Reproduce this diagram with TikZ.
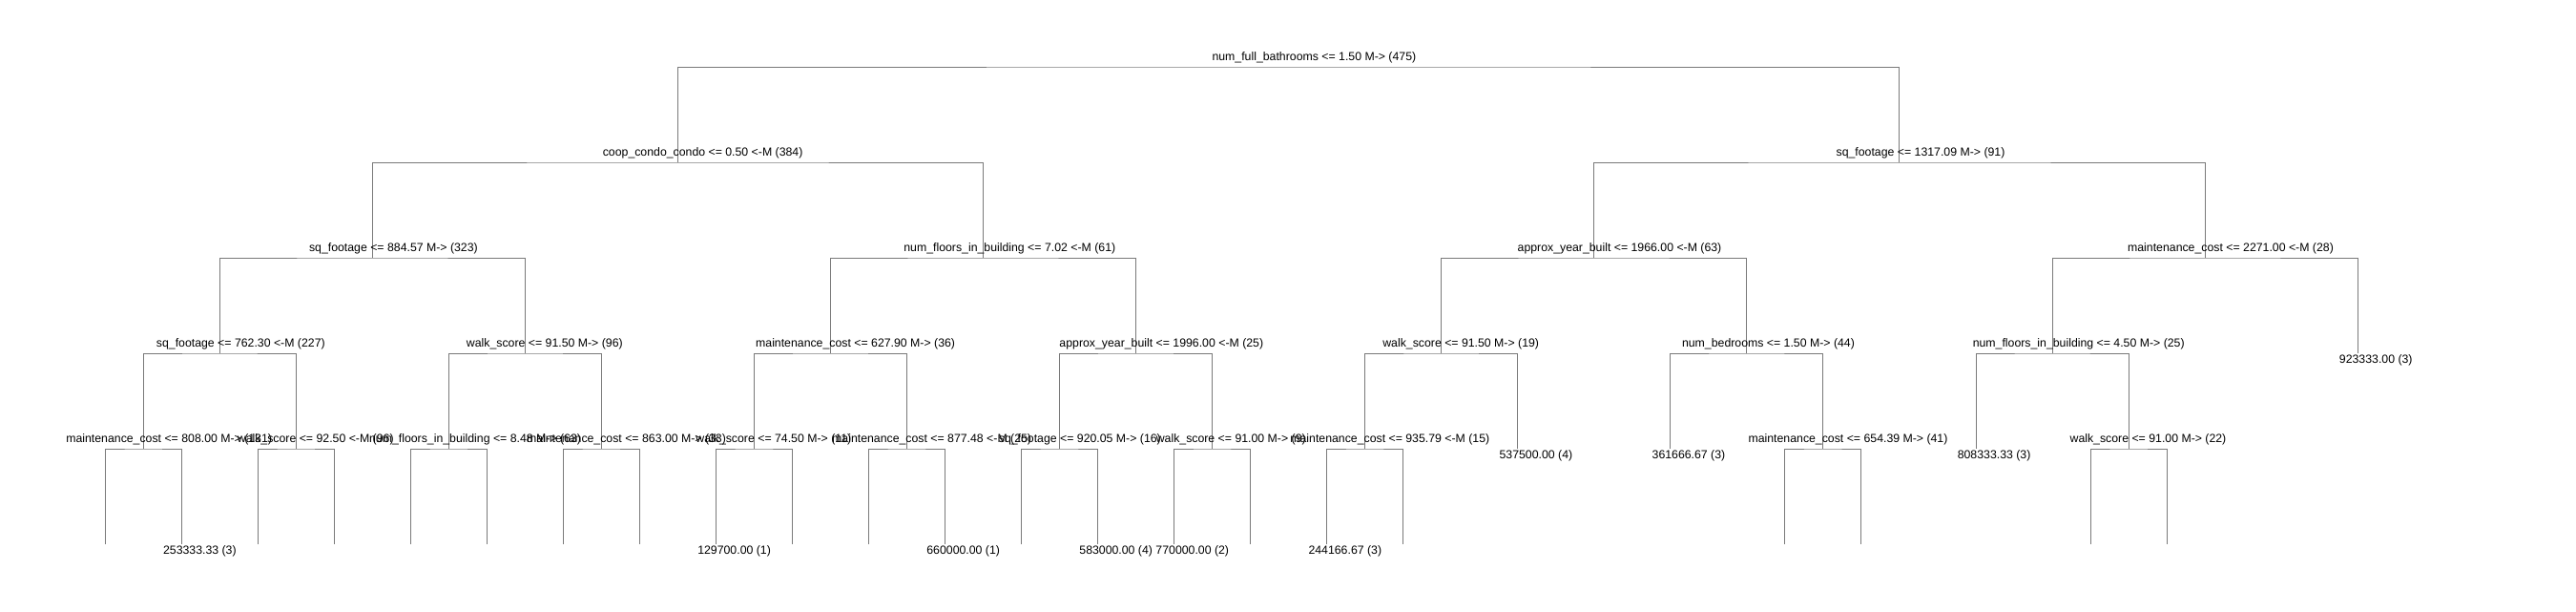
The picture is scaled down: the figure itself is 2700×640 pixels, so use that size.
\documentclass[tikz,border=0pt]{standalone}
\usepackage{fontspec}
\setmainfont{Liberation Sans}
\usetikzlibrary{calc}
\definecolor{treegray}{HTML}{7A7A7A}
\newcommand\lblfont{\fontsize{12.3}{14}\selectfont}
\tikzset{
  edge/.style={draw=treegray, line width=0.9pt},
  lbl/.style={inner sep=0pt, outer sep=0pt, font=\lblfont, text=black},
}
% internal node label: left edge at x - 0.375 width, baseline above the bar
\newcommand\splitlabel[4]{%
  \path (#2,#3) node[lbl, anchor=base west] (#1m) {\phantom{#4}};
  \path let \p1=($(#1m.east)-(#1m.west)$) in
    node[lbl, anchor=base west, xshift=-0.375*\x1, yshift=6.5pt] (#1) at (#2,#3) {#4};}
% leaf label: left edge at x - 0.25 width, below the end of the leaf line
\newcommand\leaflabel[4]{%
  \path (#2,#3) node[lbl, anchor=base west] (#1m) {\phantom{#4}};
  \path let \p1=($(#1m.east)-(#1m.west)$) in
    node[lbl, anchor=base west, xshift=-0.25*\x1, yshift=-10.5pt] (#1) at (#2,#3) {#4};}
\begin{document}
\begin{tikzpicture}[x=1pt, y=-1pt]
\fill[white] (0,0) rectangle (2700,640);
\useasboundingbox (0,0) rectangle (2700,640);
% tree nodes
\coordinate (n0) at (1350.67,70);
\coordinate (n1a) at (710.43,170);
\coordinate (n1b) at (1990.91,170);
\coordinate (n2a) at (390.31,270);
\coordinate (n2b) at (1030.55,270);
\coordinate (n2c) at (1670.79,270);
\coordinate (n2d) at (2311.03,270);
\coordinate (n3a) at (230.25,370);
\coordinate (n3b) at (550.37,370);
\coordinate (n3c) at (870.49,370);
\coordinate (n3d) at (1190.61,370);
\coordinate (n3e) at (1510.73,370);
\coordinate (n3f) at (1830.85,370);
\coordinate (n3g) at (2150.97,370);
\coordinate (l29) at (2471.09,370);
\coordinate (n4a) at (150.22,470);
\coordinate (n4b) at (310.28,470);
\coordinate (n4c) at (470.34,470);
\coordinate (n4d) at (630.40,470);
\coordinate (n4e) at (790.46,470);
\coordinate (n4f) at (950.52,470);
\coordinate (n4g) at (1110.58,470);
\coordinate (n4h) at (1270.64,470);
\coordinate (n4i) at (1430.70,470);
\coordinate (l18) at (1590.76,470);
\coordinate (l20) at (1750.82,470);
\coordinate (n4j) at (1910.88,470);
\coordinate (l24) at (2070.94,470);
\coordinate (n4k) at (2231.00,470);
\coordinate (l0) at (110.20,570);
\coordinate (l1) at (190.23,570);
\coordinate (l2) at (270.26,570);
\coordinate (l3) at (350.29,570);
\coordinate (l4) at (430.32,570);
\coordinate (l5) at (510.35,570);
\coordinate (l6) at (590.38,570);
\coordinate (l7) at (670.41,570);
\coordinate (l8) at (750.44,570);
\coordinate (l9) at (830.47,570);
\coordinate (l10) at (910.50,570);
\coordinate (l11) at (990.53,570);
\coordinate (l12) at (1070.56,570);
\coordinate (l13) at (1150.59,570);
\coordinate (l14) at (1230.62,570);
\coordinate (l15) at (1310.65,570);
\coordinate (l16) at (1390.68,570);
\coordinate (l17) at (1470.71,570);
\coordinate (l22) at (1870.86,570);
\coordinate (l23) at (1950.89,570);
\coordinate (l26) at (2190.98,570);
\coordinate (l27) at (2271.01,570);
% connectors
\draw[edge] (n1a) |- (n0) -| (n1b);
\draw[edge] (n2a) |- (n1a) -| (n2b);
\draw[edge] (n2c) |- (n1b) -| (n2d);
\draw[edge] (n3a) |- (n2a) -| (n3b);
\draw[edge] (n3c) |- (n2b) -| (n3d);
\draw[edge] (n3e) |- (n2c) -| (n3f);
\draw[edge] (n3g) |- (n2d) -| (l29);
\draw[edge] (n4a) |- (n3a) -| (n4b);
\draw[edge] (n4c) |- (n3b) -| (n4d);
\draw[edge] (n4e) |- (n3c) -| (n4f);
\draw[edge] (n4g) |- (n3d) -| (n4h);
\draw[edge] (n4i) |- (n3e) -| (l18);
\draw[edge] (l20) |- (n3f) -| (n4j);
\draw[edge] (l24) |- (n3g) -| (n4k);
\draw[edge] (l0) |- (n4a) -| (l1);
\draw[edge] (l2) |- (n4b) -| (l3);
\draw[edge] (l4) |- (n4c) -| (l5);
\draw[edge] (l6) |- (n4d) -| (l7);
\draw[edge] (l8) |- (n4e) -| (l9);
\draw[edge] (l10) |- (n4f) -| (l11);
\draw[edge] (l12) |- (n4g) -| (l13);
\draw[edge] (l14) |- (n4h) -| (l15);
\draw[edge] (l16) |- (n4i) -| (l17);
\draw[edge] (l22) |- (n4j) -| (l23);
\draw[edge] (l26) |- (n4k) -| (l27);
% split labels
\splitlabel{t0}{1350.67}{70}{num\_full\_bathrooms <= 1.50 M-> (475)}
\splitlabel{t1a}{710.43}{170}{coop\_condo\_condo <= 0.50 <-M (384)}
\splitlabel{t1b}{1990.91}{170}{sq\_footage <= 1317.09 M-> (91)}
\splitlabel{t2a}{390.31}{270}{sq\_footage <= 884.57 M-> (323)}
\splitlabel{t2b}{1030.55}{270}{num\_floors\_in\_building <= 7.02 <-M (61)}
\splitlabel{t2c}{1670.79}{270}{approx\_year\_built <= 1966.00 <-M (63)}
\splitlabel{t2d}{2311.03}{270}{maintenance\_cost <= 2271.00 <-M (28)}
\splitlabel{t3a}{230.25}{370}{sq\_footage <= 762.30 <-M (227)}
\splitlabel{t3b}{550.37}{370}{walk\_score <= 91.50 M-> (96)}
\splitlabel{t3c}{870.49}{370}{maintenance\_cost <= 627.90 M-> (36)}
\splitlabel{t3d}{1190.61}{370}{approx\_year\_built <= 1996.00 <-M (25)}
\splitlabel{t3e}{1510.73}{370}{walk\_score <= 91.50 M-> (19)}
\splitlabel{t3f}{1830.85}{370}{num\_bedrooms <= 1.50 M-> (44)}
\splitlabel{t3g}{2150.97}{370}{num\_floors\_in\_building <= 4.50 M-> (25)}
\splitlabel{t4a}{150.22}{470}{maintenance\_cost <= 808.00 M-> (131)}
\splitlabel{t4b}{310.28}{470}{walk\_score <= 92.50 <-M (96)}
\splitlabel{t4c}{470.34}{470}{num\_floors\_in\_building <= 8.48 M-> (63)}
\splitlabel{t4d}{630.40}{470}{maintenance\_cost <= 863.00 M-> (33)}
\splitlabel{t4e}{790.46}{470}{walk\_score <= 74.50 M-> (11)}
\splitlabel{t4f}{950.52}{470}{maintenance\_cost <= 877.48 <-M (25)}
\splitlabel{t4g}{1110.58}{470}{sq\_footage <= 920.05 M-> (16)}
\splitlabel{t4h}{1270.64}{470}{walk\_score <= 91.00 M-> (9)}
\splitlabel{t4i}{1430.70}{470}{maintenance\_cost <= 935.79 <-M (15)}
\splitlabel{t4j}{1910.88}{470}{maintenance\_cost <= 654.39 M-> (41)}
\splitlabel{t4k}{2231.00}{470}{walk\_score <= 91.00 M-> (22)}
% leaf labels
\leaflabel{v1}{190.23}{570}{253333.33 (3)}
\leaflabel{v8}{750.44}{570}{129700.00 (1)}
\leaflabel{v11}{990.53}{570}{660000.00 (1)}
\leaflabel{v13}{1150.59}{570}{583000.00 (4)}
\leaflabel{v14}{1230.62}{570}{770000.00 (2)}
\leaflabel{v16}{1390.68}{570}{244166.67 (3)}
\leaflabel{v18}{1590.76}{470}{537500.00 (4)}
\leaflabel{v20}{1750.82}{470}{361666.67 (3)}
\leaflabel{v24}{2070.94}{470}{808333.33 (3)}
\leaflabel{v29}{2471.09}{370}{923333.00 (3)}
\end{tikzpicture}
\end{document}
